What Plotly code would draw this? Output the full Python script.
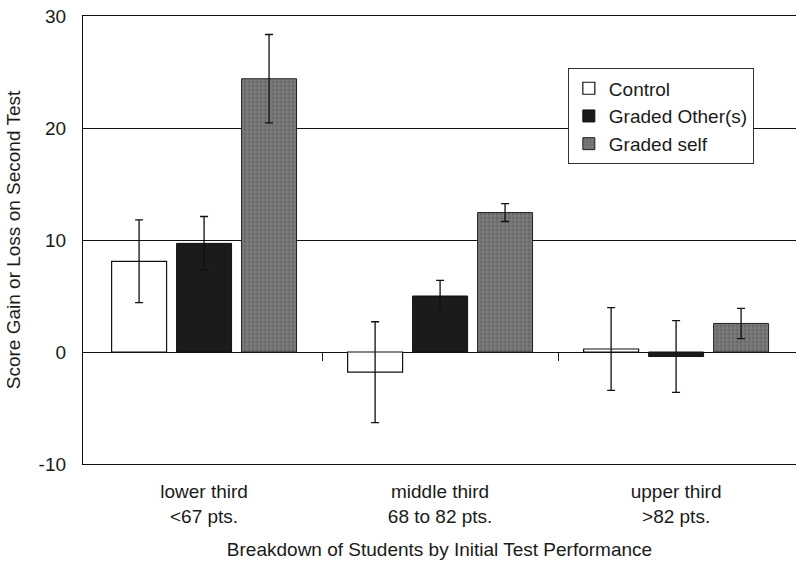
import plotly.graph_objects as go

categories = ["lower third<br><67 pts.", "middle third<br>68 to 82 pts.", "upper third<br>>82 pts."]
series_names = ["Control", "Graded Other(s)", "Graded self"]
control = [8.1, -1.8, 0.27]
control_err = [3.7, 4.5, 3.7]
graded_other = [9.7, 5.0, -0.4]
graded_other_err = [2.4, 1.4, 3.2]
graded_self = [24.4, 12.45, 2.55]
graded_self_err = [3.95, 0.8, 1.35]
y_ticks = [-10, 0, 10, 20, 30]
y_ticktext = ["-10", "0", "10", "20", "30"]
group_boundaries = [0.5, 1.5]

FONT = "Liberation Sans"
TXT = "#1a1a1a"

fig = go.Figure()
styles = [
    dict(color="white", line=dict(color="#111", width=1.2)),
    dict(color="#1b1b1b", line=dict(color="#111", width=1)),
    dict(color="#6f6f6f", line=dict(color="#222", width=1),
         pattern=dict(shape=".", fgcolor="#555", bgcolor="#7a7a7a", size=4, solidity=0.4)),
]
for name, vals, errs, st in zip(series_names, [control, graded_other, graded_self],
                                [control_err, graded_other_err, graded_self_err], styles):
    fig.add_trace(go.Bar(
        x=categories, y=vals, name=name, marker=st,
        error_y=dict(type="data", array=errs, visible=True, color="#111", thickness=1.3, width=4),
    ))

# helper trace so the zero-line axis (with boundary ticks) is drawn
fig.add_trace(go.Scatter(x=group_boundaries, y=[0, 0], xaxis="x2", mode="markers",
                         marker=dict(size=0.1, color="rgba(0,0,0,0)"),
                         showlegend=False, hoverinfo="skip"))

fig.update_layout(
    width=796, height=566,
    margin=dict(l=83, r=0, t=16, b=102),
    paper_bgcolor="white", plot_bgcolor="white",
    font=dict(family=FONT, color=TXT, size=19),
    barmode="group", bargap=0.174, bargroupgap=0.154,
    showlegend=True,
    legend=dict(x=0.68, y=0.883, xanchor="left", yanchor="top",
                bgcolor="white", bordercolor="#333", borderwidth=1,
                font=dict(size=19, family=FONT, color=TXT),
                tracegroupgap=0, itemwidth=30),
    xaxis=dict(range=[-0.513, 2.508], showgrid=False, zeroline=False,
               showline=True, mirror=True, linecolor="#111", linewidth=1.3,
               ticks="", tickfont=dict(size=19), ticklabelstandoff=10,
               title=dict(text="Breakdown of Students by Initial Test Performance",
                          font=dict(size=19), standoff=17)),
    xaxis2=dict(overlaying="x", anchor="free", position=0.25, range=[-0.513, 2.508],
                showline=False, showgrid=False, zeroline=False, ticks="outside",
                tickvals=group_boundaries, ticklen=8, tickcolor="#222", tickwidth=1.2,
                showticklabels=False),
    yaxis=dict(range=[-10, 30], tickvals=y_ticks, ticktext=y_ticktext,
               showgrid=True, gridcolor="#111",
               gridwidth=1.3, zeroline=True, zerolinecolor="#111", zerolinewidth=1.3,
               showline=True, linecolor="#111", linewidth=1.3, ticks="",
               ticklabelstandoff=12, tickfont=dict(size=19),
               title=dict(text="Score Gain or Loss on Second Test", font=dict(size=19), standoff=12)),
)

fig.write_html("out.html")
